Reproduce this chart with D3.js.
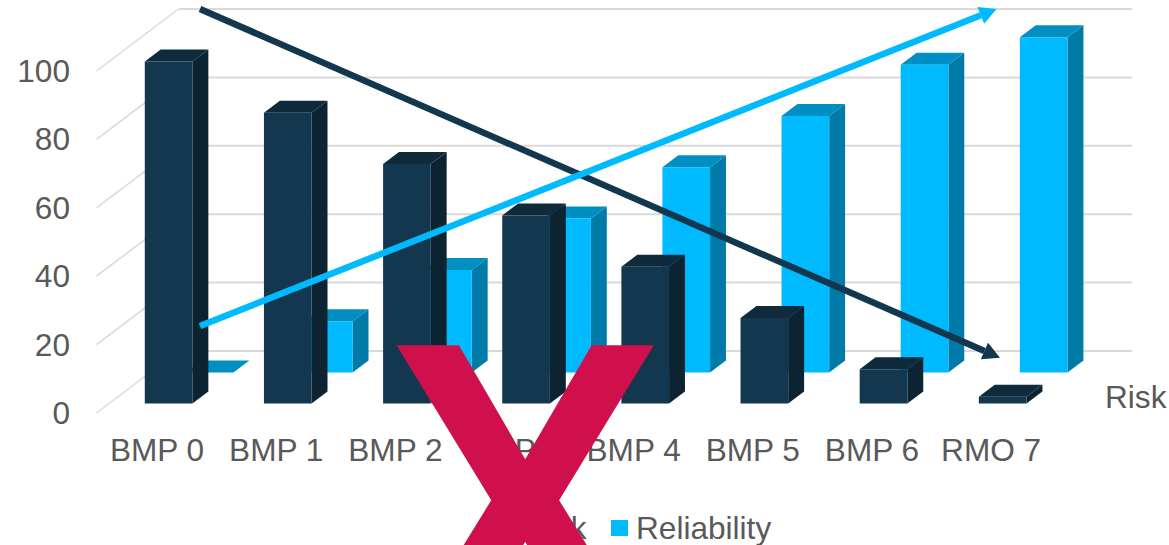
<!DOCTYPE html>
<html>
<head>
<meta charset="utf-8">
<title>Risk and reliability</title>
<script src="https://d3js.org/d3.v7.min.js"></script>
<style>
  html, body { margin: 0; padding: 0; background: #fff; overflow: hidden; }
  svg { display: block; }
  text { font-family: "Liberation Sans", Arial, sans-serif; fill: #595959; }
  .domain { display: none; }
</style>
</head>
<body>
<div id="chart"></div>
<script>
// chart values
const categories = ["BMP 0", "BMP 1", "BMP 2", "BMP 3", "BMP 4", "BMP 5", "BMP 6", "RMO 7"];
const riskValues = [100, 85, 70, 55, 40, 25, 10, 2];
const reliabilityValues = [0, 15, 30, 45, 60, 75, 90, 98];
const seriesNames = ["Risk", "Reliability"];
const yTicks = [0, 20, 40, 60, 80, 100];

// the two hand drawn trend arrows, in category index and value on the back wall
const riskTrendAt = [0, 7];
const riskTrend = [100, -2];
const reliabilityTrendAt = [0, 6.97];
const reliabilityTrend = [7.3, 100];

const width = 1169;
const height = 545;
const depthX = 82;
const depthY = -62;

const colors = {
    Risk: { front: "#12374f", side: "#0c2431", top: "#0e2a3b" },
    Reliability: { front: "#00baff", side: "#007ba8", top: "#008fc3" }
};

const svg = d3.select("#chart")
    .append("svg")
    .attr("width", width)
    .attr("height", height);

const x = d3.scaleBand().domain(categories).range([96.5, 1049.7]).paddingInner(0.6).paddingOuter(0.3);
const y = d3.scaleLinear().domain([0, 100]).range([413, 71]);
const z = d3.scaleBand().domain(seriesNames).range([0, 1]).paddingInner(0.612).paddingOuter(0.306);
const trendX = d3.scaleLinear().domain([0, 7]).range([200, 1000]);

// oblique projection: plot x, value and depth (0 front, 1 back wall)
const project = (px, value, depth) => [px + depthX * depth, y(value) + depthY * depth];
const points = list => list.map(p => p.join(",")).join(" ");

// gridlines
const grid = svg.append("g").attr("stroke", "#d9d9d9").attr("fill", "none");
grid.selectAll("line.wall")
    .data(yTicks)
    .enter().append("line")
    .attr("class", "wall")
    .attr("x1", x.range()[0] + depthX)
    .attr("x2", x.range()[1] + depthX)
    .attr("y1", d => project(0, d, 1)[1])
    .attr("y2", d => project(0, d, 1)[1])
    .attr("stroke-width", 2);
grid.selectAll("line.side")
    .data(yTicks)
    .enter().append("line")
    .attr("class", "side")
    .attr("x1", x.range()[0])
    .attr("x2", x.range()[0] + depthX)
    .attr("y1", d => project(0, d, 0)[1])
    .attr("y2", d => project(0, d, 1)[1])
    .attr("stroke-width", 1.5);

// bars, back row first
function drawBars(name, values) {
    const z0 = z(name);
    const z1 = z0 + z.bandwidth();
    const c = colors[name];
    const row = svg.append("g").attr("class", "row-" + name);
    const bars = row.selectAll("g")
        .data(values.map((v, i) => ({ cat: categories[i], v: v })))
        .enter().append("g");

    bars.append("polygon")
        .attr("fill", c.side)
        .attr("points", d => {
            const r = x(d.cat) + x.bandwidth();
            return points([project(r, 0, z0), project(r, 0, z1), project(r, d.v, z1), project(r, d.v, z0)]);
        });
    bars.append("polygon")
        .attr("fill", c.top)
        .attr("points", d => {
            const l = x(d.cat);
            const r = l + x.bandwidth();
            return points([project(l, d.v, z0), project(r, d.v, z0), project(r, d.v, z1), project(l, d.v, z1)]);
        });
    bars.append("polygon")
        .attr("fill", c.front)
        .attr("points", d => {
            const l = x(d.cat);
            const r = l + x.bandwidth();
            return points([project(l, 0, z0), project(r, 0, z0), project(r, d.v, z0), project(l, d.v, z0)]);
        });
}
drawBars("Reliability", reliabilityValues);
drawBars("Risk", riskValues);

// axes
const fontSize = 31.6;
const yAxis = svg.append("g")
    .attr("transform", "translate(70,0)")
    .call(d3.axisLeft(y).tickValues(yTicks).tickSize(0).tickPadding(0));
yAxis.selectAll("text").attr("font-size", fontSize).attr("dy", "0.33em");

const xAxis = svg.append("g")
    .attr("transform", "translate(1,439)")
    .call(d3.axisBottom(x).tickSize(0).tickPadding(0));
xAxis.selectAll("text").attr("font-size", fontSize);
svg.selectAll("g.tick text").style("fill", "#595959");

// depth axis label, only the first series name fits
svg.append("text")
    .attr("x", 1105)
    .attr("y", 408)
    .attr("font-size", fontSize)
    .text(seriesNames[0]);

// arrows
function drawArrow(at, vals, color) {
    const start = [trendX(at[0]), project(0, vals[0], 1)[1]];
    const tip = [trendX(at[1]), project(0, vals[1], 1)[1]];
    const angle = Math.atan2(tip[1] - start[1], tip[0] - start[0]);
    const headLen = 17;
    const headHalf = 9;
    const base = [tip[0] - headLen * Math.cos(angle), tip[1] - headLen * Math.sin(angle)];
    svg.append("path")
        .attr("d", d3.line()([start, base]))
        .attr("stroke", color)
        .attr("stroke-width", 6.5)
        .attr("fill", "none");
    svg.append("polygon")
        .attr("fill", color)
        .attr("points", points([
            tip,
            [base[0] - headHalf * Math.sin(angle), base[1] + headHalf * Math.cos(angle)],
            [base[0] + headHalf * Math.sin(angle), base[1] - headHalf * Math.cos(angle)]
        ]));
}
drawArrow(riskTrendAt, riskTrend, colors.Risk.front);
drawArrow(reliabilityTrendAt, reliabilityTrend, colors.Reliability.front);

// legend
const legend = svg.append("g");
legend.selectAll("rect")
    .data(seriesNames)
    .enter().append("rect")
    .attr("x", (d, i) => i === 0 ? 500 : 611)
    .attr("y", 520)
    .attr("width", 17)
    .attr("height", 16)
    .attr("fill", d => colors[d].front);
legend.selectAll("text")
    .data(seriesNames)
    .enter().append("text")
    .attr("x", (d, i) => i === 0 ? 525 : 636)
    .attr("y", 539)
    .attr("font-size", fontSize)
    .text(d => d);

// big red cross on top of everything
svg.append("text")
    .attr("x", 525)
    .attr("y", 658)
    .attr("text-anchor", "middle")
    .attr("font-size", 440)
    .attr("font-weight", 500)
    .style("font-family", "Roboto")
    .style("fill", "#d0104c")
    .text("X");
</script>
</body>
</html>
